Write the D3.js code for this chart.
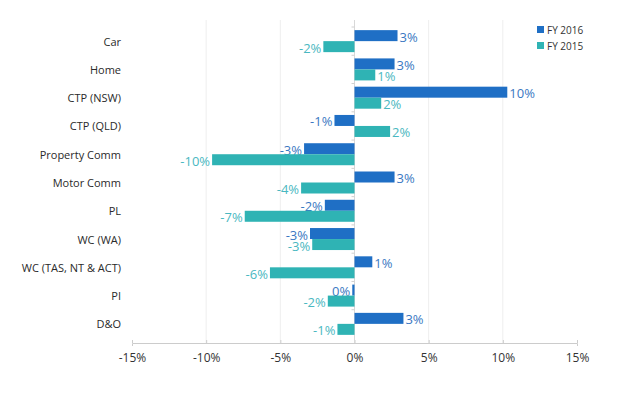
<!DOCTYPE html>
<html>
<head>
<meta charset="utf-8">
<script src="https://cdn.jsdelivr.net/npm/d3@7"></script>
<style>
  body { margin: 0; background: #fff; }
  text { font-family: "Open Sans", "DejaVu Sans", sans-serif; }
</style>
</head>
<body>
<svg id="chart" width="638" height="393"></svg>
<script>
// categorias e valores
const categories = ["Car", "Home", "CTP (NSW)", "CTP (QLD)", "Property Comm", "Motor Comm",
  "PL", "WC (WA)", "WC (TAS, NT & ACT)", "PI", "D&O"];
const fy2016 = [2.9, 2.7, 10.3, -1.35, -3.4, 2.7, -2.0, -3.0, 1.2, -0.15, 3.3];
const fy2015 = [-2.1, 1.4, 1.8, 2.4, -9.6, -3.6, -7.4, -2.85, -5.7, -1.8, -1.15];
const xTicks = [-15, -10, -5, 0, 5, 10, 15];
const seriesNames = ["FY 2016", "FY 2015"];

const COLOR_2016 = "#1f6fc5";
const COLOR_2015 = "#2fb3b4";
const LABEL_2016 = "#3a78c2";
const LABEL_2015 = "#4ab8c1";

const svg = d3.select("#chart");

const x = d3.scaleLinear().domain([-15, 15]).range([132, 577]);
const y = d3.scaleBand().domain(categories).range([27, 338]);
const barH = 11;

// linhas de grade verticais
svg.append("g")
  .selectAll("line")
  .data(xTicks.filter((t) => t !== 0 && Math.abs(t) !== 15))
  .join("line")
  .attr("x1", (d) => x(d)).attr("x2", (d) => x(d))
  .attr("y1", 20).attr("y2", 343)
  .attr("stroke", "#eeeeee").attr("stroke-width", 1);

// eixo X
const xAxis = svg.append("g")
  .attr("transform", "translate(0,343)")
  .call(d3.axisBottom(x).tickValues(xTicks).tickFormat((d) => d + "%").tickSize(3).tickPadding(7));
xAxis.select(".domain").attr("stroke", "#cccccc");
xAxis.selectAll(".tick line").attr("stroke", "#cccccc").attr("transform", "translate(0,-3)");
xAxis.selectAll(".tick text").attr("fill", "#333").style("font-size", "12px");

// linha do zero com pequenos ticks
svg.append("line")
  .attr("x1", x(0)).attr("x2", x(0))
  .attr("y1", 20).attr("y2", 343)
  .attr("stroke", "#d8d8d8");
svg.append("g")
  .selectAll("line")
  .data(categories)
  .join("line")
  .attr("x1", x(0) - 3).attr("x2", x(0))
  .attr("y1", (d) => y(d)).attr("y2", (d) => y(d))
  .attr("stroke", "#d0d0d0");

// rótulos das categorias
svg.append("g")
  .selectAll("text")
  .data(categories)
  .join("text")
  .attr("x", 121)
  .attr("y", (d) => y(d) + y.bandwidth() / 2)
  .attr("text-anchor", "end")
  .attr("dominant-baseline", "central")
  .attr("fill", "#2a2a2a")
  .style("font-size", "11px")
  .text((d) => d);

function drawSeries(values, color, labelColor, offset) {
  const rows = categories.map((c, i) => ({ c, v: values[i] }));
  const yTop = (d) => y(d.c) + y.bandwidth() / 2 + offset;

  svg.append("g")
    .selectAll("rect")
    .data(rows)
    .join("rect")
    .attr("x", (d) => x(Math.min(0, d.v)))
    .attr("y", yTop)
    .attr("width", (d) => Math.max(1, Math.abs(x(d.v) - x(0))))
    .attr("height", barH)
    .attr("fill", color);

  svg.append("g")
    .selectAll("text")
    .data(rows)
    .join("text")
    .attr("x", (d) => d.v >= 0 ? x(d.v) + 2 : x(d.v) - 2)
    .attr("y", (d) => yTop(d) + barH / 2 + 1)
    .attr("text-anchor", (d) => d.v >= 0 ? "start" : "end")
    .attr("dominant-baseline", "central")
    .attr("fill", labelColor)
    .style("font-size", "13px")
    .text((d) => Math.round(d.v) + "%");
}

drawSeries(fy2016, COLOR_2016, LABEL_2016, -barH);
drawSeries(fy2015, COLOR_2015, LABEL_2015, 0);

// legenda
const legend = svg.append("g").attr("transform", "translate(537,30)");
seriesNames.forEach((name, i) => {
  const g = legend.append("g").attr("transform", `translate(0,${i * 16})`);
  g.append("rect").attr("x", 0).attr("y", -4).attr("width", 7).attr("height", 7)
    .attr("fill", i === 0 ? COLOR_2016 : COLOR_2015);
  g.append("text").attr("x", 10).attr("y", 0)
    .attr("dominant-baseline", "central")
    .attr("fill", "#333").style("font-size", "10px")
    .text(name);
});
</script>
</body>
</html>
